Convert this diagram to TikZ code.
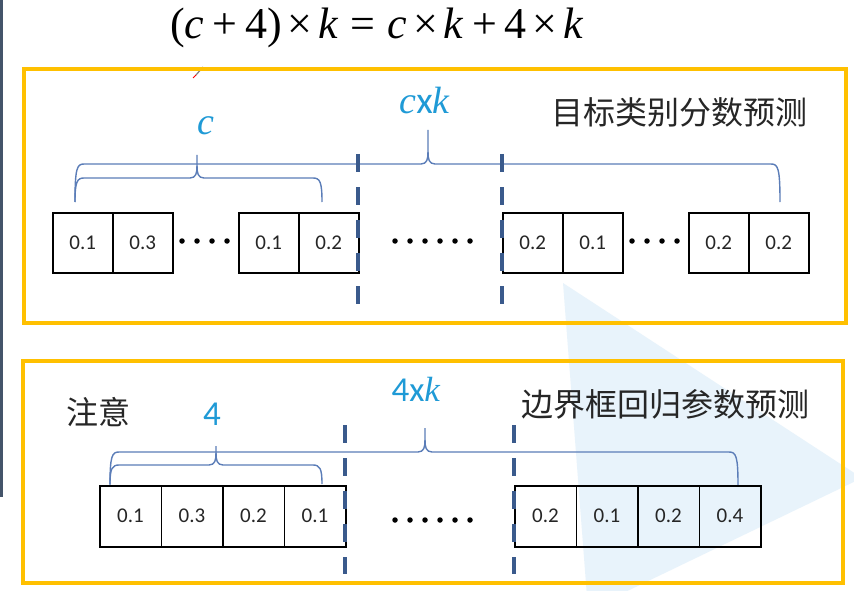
\documentclass[tikz,border=0pt]{standalone}
\usepackage{fontspec}
\setmainfont{Liberation Serif}
\newfontfamily\calib{Carlito}
\newfontfamily\cjk{Noto Sans CJK SC}
\definecolor{ybox}{HTML}{FFC000}
\definecolor{dashc}{HTML}{3A5A8C}
\definecolor{bracec}{HTML}{5B7DB8}
\definecolor{lblue}{HTML}{1F9AD6}
\definecolor{tri}{HTML}{E8F3FB}
\definecolor{txt}{HTML}{262626}
\definecolor{sidebar}{HTML}{44546A}
\newcommand\drawbrace[6]{% xl xr yh tx yt ye
  \draw[bracebox] (#1,#6) .. controls (#1,#3+4) and (#1+2,#3) .. (#1+9,#3) -- (#4-7,#3)
     .. controls (#4-1,#3) and (#4,#3-5) .. (#4,#3-12) -- (#4,#5);
  \draw[bracebox] (#4,#3-12) .. controls (#4,#3-5) and (#4+1,#3) .. (#4+7,#3) -- (#2-9,#3)
     .. controls (#2-2,#3) and (#2,#3+4) .. (#2,#6);
}
\newcommand\opp[1]{\hspace{8pt}#1\hspace{8pt}}
\newcommand\opt[1]{\hspace{6pt}#1\hspace{6pt}}
\newcommand\ope[1]{\hspace{12pt}#1\hspace{12pt}}
\tikzset{
  frame/.style={draw=ybox, line width=3.5pt},
  cell/.style={draw=black, line width=1.5pt, minimum height=60, inner sep=0,
    anchor=north west, font=\calib\fontsize{21}{21}\selectfont, text=txt},
  topcell/.style={cell, minimum width=60},
  botcell/.style={cell, minimum width=61.5, minimum height=61},
  dashline/.style={draw=dashc, line width=4pt, dash pattern=on 18pt off 15pt},
  bracebox/.style={draw=bracec, line width=1.4pt},
  dotmark/.style={fill=black, draw=none, circle, inner sep=0, minimum size=5.5},
  cjktext/.style={font=\cjk\fontsize{32}{32}\selectfont, text=txt, inner sep=0, anchor=west},
}
\begin{document}
\begin{tikzpicture}[x=1pt,y=-1pt]
\useasboundingbox (0,0) rectangle (854,591);
\fill[white] (0,0) rectangle (854,591);
\begin{scope}
\clip (0,0) rectangle (854,591);
\fill[tri] (563,283) -- (862,478) -- (588,610) -- cycle;
\end{scope}
\fill[sidebar] (0,0) rectangle (3,497);
% formula
\node[anchor=base west, inner sep=0] (formula) at (170,39)
  {\fontsize{44}{44}\selectfont (\textit{c}\opp{+}4)\opt{×}\textit{k}\ope{=}\textit{c}\opt{×}\textit{k}\opp{+}4\opt{×}\textit{k}};
% pen mark
\draw[gray, line width=1.2pt] (196,75) -- (203,67);
\draw[red, line width=1pt] (193,78) -- (196,75);
% frames
\draw[frame] (24,69) rectangle (846,323);
\draw[frame] (23,361) rectangle (843,583);
% top labels
\node[cjktext] (t1) at (551,112) {目标类别分数预测};
\node[text=lblue, inner sep=0, font=\fontsize{38}{38}\selectfont] (lc) at (206,126) {\textit{c}};
\node[text=lblue, inner sep=0, font=\fontsize{38}{38}\selectfont] (lck) at (425,101) {\textit{c}{\calib x}\textit{k}};
% top braces
\drawbrace{75}{780}{164}{428}{130}{202}
\drawbrace{75}{322}{178}{197}{155}{202}
% top cells
\node[topcell] (a1) at (52,212) {0.1};
\node[topcell] (a2) at (112,212) {0.3};
\node[topcell] (a3) at (238,212) {0.1};
\node[topcell] (a4) at (298,212) {0.2};
\node[topcell] (a5) at (502,212) {0.2};
\node[topcell] (a6) at (562,212) {0.1};
\node[topcell] (a7) at (688,212) {0.2};
\node[topcell] (a8) at (748,212) {0.2};
% top dots
\foreach \x in {182,197,212,227} \node[dotmark] at (\x,241) {};
\foreach \x in {395,410,425,440,455,470} \node[dotmark] at (\x,241) {};
\foreach \x in {632,647,662,677} \node[dotmark] at (\x,241) {};
% top dashed lines
\coordinate (d1a) at (358,154); \coordinate (d1b) at (358,304);
\coordinate (d2a) at (502,154); \coordinate (d2b) at (502,304);
\draw[dashline] (d1a) -- (d1b);
\draw[dashline] (d2a) -- (d2b);
% bottom labels
\node[cjktext] (n1) at (66,412) {注意};
\node[cjktext] (t2) at (521,404) {边界框回归参数预测};
\node[text=lblue, inner sep=0, font=\calib\fontsize{35}{35}\selectfont] (l4) at (212,414) {4};
\node[text=lblue, inner sep=0, font=\fontsize{35}{35}\selectfont] (l4k) at (416,389) {{\calib 4x}\textit{k}};
% bottom braces
\drawbrace{110}{738}{452}{425}{428}{485}
\drawbrace{110}{322}{465}{216}{446}{484}
% bottom cells
\node[botcell] (b1) at (99,485) {0.1};
\node[botcell] (b2) at (160.5,485) {0.3};
\node[botcell] (b3) at (222,485) {0.2};
\node[botcell] (b4) at (283.5,485) {0.1};
\node[botcell] (b5) at (514,485) {0.2};
\node[botcell] (b6) at (575.5,485) {0.1};
\node[botcell] (b7) at (637,485) {0.2};
\node[botcell] (b8) at (698.5,485) {0.4};
\foreach \x in {395,410,425,440,455,470} \node[dotmark] at (\x,520) {};
% bottom dashed lines
\coordinate (d3a) at (345,425); \coordinate (d3b) at (345,574);
\coordinate (d4a) at (514,425); \coordinate (d4b) at (514,574);
\draw[dashline] (d3a) -- (d3b);
\draw[dashline] (d4a) -- (d4b);
\end{tikzpicture}
\end{document}
